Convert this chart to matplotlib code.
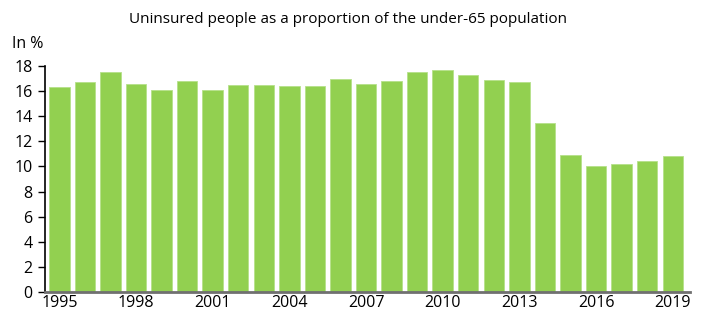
import matplotlib.pyplot as plt

years = list(range(1995, 2020))
shares = [16.3, 16.7, 17.5, 16.6, 16.1, 16.8, 16.1, 16.5, 16.5, 16.4, 16.4, 17.0,
          16.6, 16.8, 17.5, 17.7, 17.3, 16.9, 16.7, 13.5, 10.9, 10.0, 10.2, 10.4, 10.8]
tick_years = [1995, 1998, 2001, 2004, 2007, 2010, 2013, 2016, 2019]

plt.rcParams['font.family'] = ['Open Sans', 'DejaVu Sans']

fig = plt.figure(figsize=(7.1, 3.16), dpi=100)
ax = fig.add_axes([0.0634, 0.076, 0.9086, 0.715])

ax.bar(years, shares, width=0.8, color='#92d050', edgecolor='#b5e08a', linewidth=0.6)

ax.set_xlim(1995 - 0.56, 2019 + 0.68)
ax.set_ylim(0, 18)
ax.set_yticks(range(0, 19, 2))
ax.set_xticks(tick_years)

for s in ['top', 'right']:
    ax.spines[s].set_visible(False)
ax.spines['left'].set_color('black')
ax.spines['left'].set_linewidth(1.2)
ax.spines['bottom'].set_color('#707070')
ax.spines['bottom'].set_linewidth(2)

ax.tick_params(axis='y', length=5, width=1, labelsize=11.5, pad=4)
ax.tick_params(axis='x', length=0, labelsize=11.5, pad=2)

fig.text(0.4895, 0.937, 'Uninsured people as a proportion of the under-65 population',
         fontsize=11, ha='center', va='center')
fig.text(0.017, 0.86, 'In %', fontsize=11.5, ha='left', va='center')

fig.savefig('out.png', dpi=100)
